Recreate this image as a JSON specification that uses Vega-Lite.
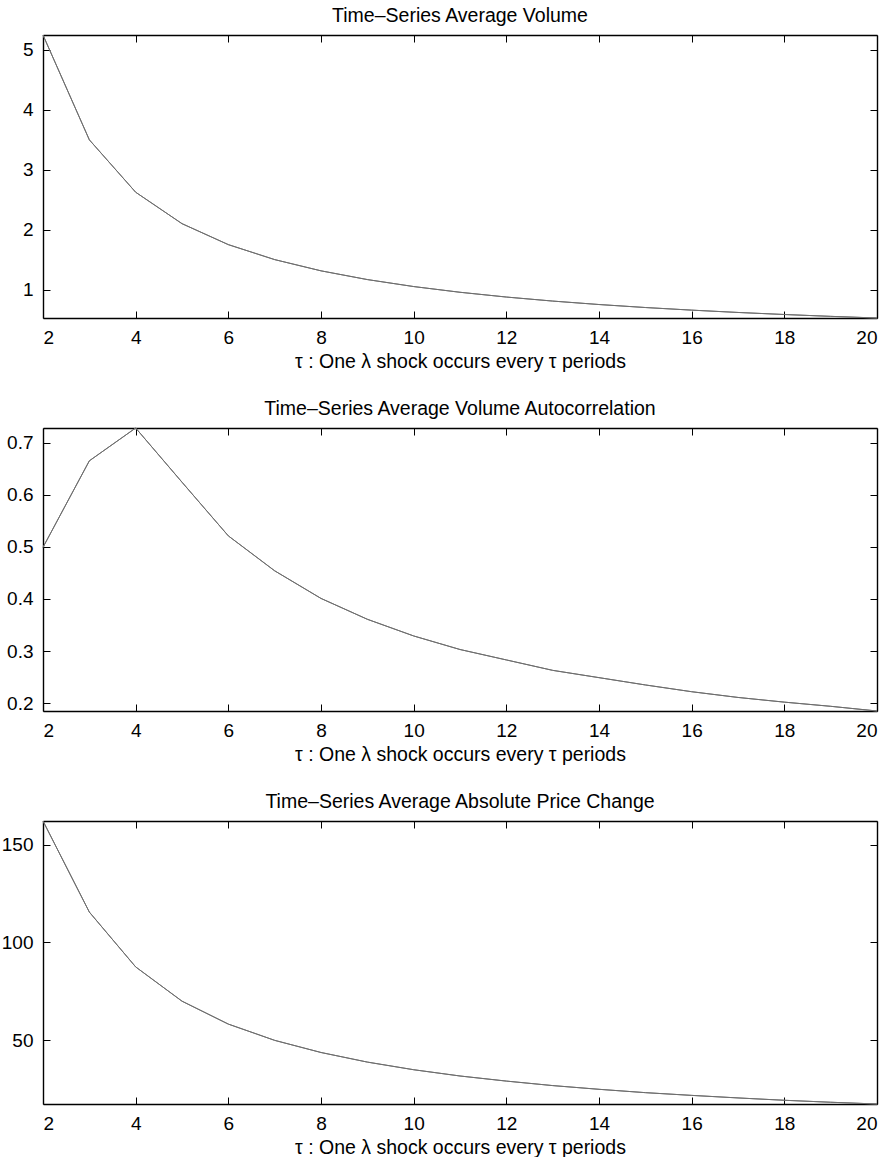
{
  "$schema": "https://vega.github.io/schema/vega-lite/v6.json",
  "autosize": {"type": "pad"},
  "padding": {"left": 1, "top": 5, "right": 10, "bottom": 5},
  "background": "white",
  "spacing": 110,
  "bounds": "flush",
  "datasets": {
    "vol": [
      {"tau": 2, "v": 5.25}, {"tau": 3, "v": 3.5}, {"tau": 4, "v": 2.625}, {"tau": 5, "v": 2.1},
      {"tau": 6, "v": 1.75}, {"tau": 7, "v": 1.5}, {"tau": 8, "v": 1.3125}, {"tau": 9, "v": 1.1667},
      {"tau": 10, "v": 1.05}, {"tau": 11, "v": 0.9545}, {"tau": 12, "v": 0.875}, {"tau": 13, "v": 0.8077},
      {"tau": 14, "v": 0.75}, {"tau": 15, "v": 0.7}, {"tau": 16, "v": 0.65625}, {"tau": 17, "v": 0.6176},
      {"tau": 18, "v": 0.5833}, {"tau": 19, "v": 0.5526}, {"tau": 20, "v": 0.525}
    ],
    "auto": [
      {"tau": 2, "v": 0.499}, {"tau": 3, "v": 0.665}, {"tau": 4, "v": 0.728}, {"tau": 5, "v": 0.624},
      {"tau": 6, "v": 0.521}, {"tau": 7, "v": 0.454}, {"tau": 8, "v": 0.401}, {"tau": 9, "v": 0.361},
      {"tau": 10, "v": 0.329}, {"tau": 11, "v": 0.303}, {"tau": 12, "v": 0.283}, {"tau": 13, "v": 0.263},
      {"tau": 14, "v": 0.249}, {"tau": 15, "v": 0.235}, {"tau": 16, "v": 0.222}, {"tau": 17, "v": 0.211},
      {"tau": 18, "v": 0.202}, {"tau": 19, "v": 0.194}, {"tau": 20, "v": 0.185}
    ],
    "price": [
      {"tau": 2, "v": 162}, {"tau": 3, "v": 115.5}, {"tau": 4, "v": 87.5}, {"tau": 5, "v": 70},
      {"tau": 6, "v": 58.3}, {"tau": 7, "v": 50}, {"tau": 8, "v": 43.8}, {"tau": 9, "v": 38.9},
      {"tau": 10, "v": 35}, {"tau": 11, "v": 31.8}, {"tau": 12, "v": 29.2}, {"tau": 13, "v": 26.9},
      {"tau": 14, "v": 25}, {"tau": 15, "v": 23.3}, {"tau": 16, "v": 21.9}, {"tau": 17, "v": 20.6},
      {"tau": 18, "v": 19.4}, {"tau": 19, "v": 18.4}, {"tau": 20, "v": 17.5}
    ]
  },
  "config": {
    "font": "Liberation Sans",
    "view": {"stroke": null},
    "axis": {
      "labelFont": "Liberation Sans", "labelFontSize": 19, "labelColor": "black",
      "titleFont": "Liberation Sans", "titleFontSize": 19.5, "titleFontWeight": "normal", "titleColor": "black",
      "domainColor": "black", "domainWidth": 1.4, "tickColor": "black", "tickWidth": 1,
      "tickSize": -7, "labelPadding": 17, "grid": false, "titlePadding": 5
    },
    "title": {"font": "Liberation Sans", "fontSize": 19.5, "fontWeight": "normal", "color": "black", "offset": 7}
  },
  "vconcat": [
    {
      "width": 834, "height": 283,
      "title": "Time–Series Average Volume",
      "data": {"name": "vol"},
      "layer": [
        {
          "mark": {"type": "line", "color": "#6e6e6e", "strokeWidth": 1},
          "encoding": {
            "x": {"field": "tau", "type": "quantitative", "scale": {"domain": [2, 20], "nice": false, "zero": false},
                  "axis": {"values": [2, 4, 6, 8, 10, 12, 14, 16, 18, 20], "title": "τ : One λ shock occurs every τ periods"}},
            "y": {"field": "v", "type": "quantitative", "scale": {"domain": [0.525, 5.25], "nice": false, "zero": false},
                  "axis": {"values": [1, 2, 3, 4, 5], "title": null}}
          }
        },
        {
          "mark": {"type": "line", "color": "#6e6e6e", "strokeWidth": 1},
          "encoding": {
            "x": {"field": "tau", "type": "quantitative", "axis": {"orient": "top", "values": [2, 4, 6, 8, 10, 12, 14, 16, 18, 20], "labels": false, "title": null}},
            "y": {"field": "v", "type": "quantitative", "axis": {"orient": "right", "values": [1, 2, 3, 4, 5], "labels": false, "title": null}}
          }
        }
      ],
      "resolve": {"axis": {"x": "independent", "y": "independent"}}
    },
    {
      "width": 834, "height": 283,
      "title": "Time–Series Average Volume Autocorrelation",
      "data": {"name": "auto"},
      "layer": [
        {
          "mark": {"type": "line", "color": "#6e6e6e", "strokeWidth": 1},
          "encoding": {
            "x": {"field": "tau", "type": "quantitative", "scale": {"domain": [2, 20], "nice": false, "zero": false},
                  "axis": {"values": [2, 4, 6, 8, 10, 12, 14, 16, 18, 20], "title": "τ : One λ shock occurs every τ periods"}},
            "y": {"field": "v", "type": "quantitative", "scale": {"domain": [0.185, 0.728], "nice": false, "zero": false},
                  "axis": {"values": [0.2, 0.3, 0.4, 0.5, 0.6, 0.7], "format": ".1f", "title": null}}
          }
        },
        {
          "mark": {"type": "line", "color": "#6e6e6e", "strokeWidth": 1},
          "encoding": {
            "x": {"field": "tau", "type": "quantitative", "axis": {"orient": "top", "values": [2, 4, 6, 8, 10, 12, 14, 16, 18, 20], "labels": false, "title": null}},
            "y": {"field": "v", "type": "quantitative", "axis": {"orient": "right", "values": [0.2, 0.3, 0.4, 0.5, 0.6, 0.7], "labels": false, "title": null}}
          }
        }
      ],
      "resolve": {"axis": {"x": "independent", "y": "independent"}}
    },
    {
      "width": 834, "height": 283,
      "title": "Time–Series Average Absolute Price Change",
      "data": {"name": "price"},
      "layer": [
        {
          "mark": {"type": "line", "color": "#6e6e6e", "strokeWidth": 1},
          "encoding": {
            "x": {"field": "tau", "type": "quantitative", "scale": {"domain": [2, 20], "nice": false, "zero": false},
                  "axis": {"values": [2, 4, 6, 8, 10, 12, 14, 16, 18, 20], "title": "τ : One λ shock occurs every τ periods"}},
            "y": {"field": "v", "type": "quantitative", "scale": {"domain": [17.5, 162], "nice": false, "zero": false},
                  "axis": {"values": [50, 100, 150], "title": null}}
          }
        },
        {
          "mark": {"type": "line", "color": "#6e6e6e", "strokeWidth": 1},
          "encoding": {
            "x": {"field": "tau", "type": "quantitative", "axis": {"orient": "top", "values": [2, 4, 6, 8, 10, 12, 14, 16, 18, 20], "labels": false, "title": null}},
            "y": {"field": "v", "type": "quantitative", "axis": {"orient": "right", "values": [50, 100, 150], "labels": false, "title": null}}
          }
        }
      ],
      "resolve": {"axis": {"x": "independent", "y": "independent"}}
    }
  ]
}
